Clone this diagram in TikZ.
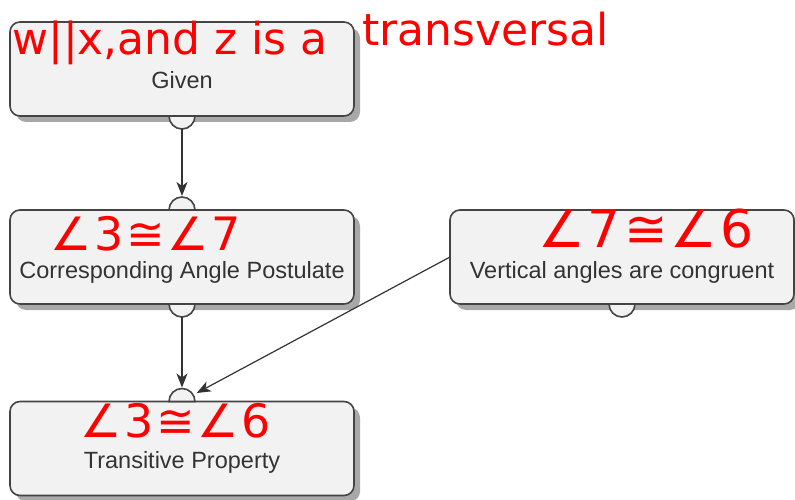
\documentclass[tikz,border=0pt]{standalone}
\usepackage{fontspec}
\setmainfont{Liberation Sans}
\newfontfamily\handfont{DejaVu Sans}
\newfontfamily\handwide[LetterSpace=6]{DejaVu Sans}
\usetikzlibrary{arrows.meta,shadows,calc}
\definecolor{boxfill}{HTML}{F2F2F2}
\definecolor{boxline}{HTML}{444444}
\definecolor{shadowgray}{HTML}{A8A8A8}
\definecolor{txtgray}{HTML}{333333}
\definecolor{ink}{HTML}{FF0000}
\begin{document}
\begin{tikzpicture}[x=1pt,y=-1pt,
 stepbox/.style={rectangle, rounded corners=10pt, minimum width=344pt, minimum height=94pt,
   draw=boxline, line width=1.6pt, fill=boxfill, outer sep=0pt,
   drop shadow={shadow xshift=6pt, shadow yshift=-6pt, fill=shadowgray, opacity=1}},
 boxtext/.style={font=\fontsize{23.5}{27}\selectfont, text=txtgray, inner sep=0pt, anchor=base},
 portcap/.style={draw=boxline, line width=1.6pt, fill=boxfill},
 arr/.style={draw=txtgray, line width=1.2pt, shorten >=1pt, -{Stealth[length=14pt,width=11pt,inset=4pt]}},
 hand/.style={text=ink, inner sep=0pt, font=\handfont\fontsize{#1}{#1}\selectfont},
 handsym/.style={text=ink, inner sep=0pt, font=\handwide\fontsize{#1}{#1}\selectfont},
]
\useasboundingbox (0,0) rectangle (795,500);
% boxes
\node[stepbox] (given) at (182,69) {};
\node[stepbox] (corr) at (182,257) {};
\node[stepbox] (vert) at (622,257) {};
\node[stepbox] (trans) at (182,448.5) {};
% semicircular ports
\path[portcap] ([xshift=-13pt]given.south) arc[start angle=180,end angle=360,radius=13pt] -- cycle;
\path[portcap] ([xshift=-13pt]corr.north) arc[start angle=180,end angle=0,radius=13pt] -- cycle;
\path[portcap] ([xshift=-13pt]corr.south) arc[start angle=180,end angle=360,radius=13pt] -- cycle;
\path[portcap] ([xshift=-13pt]vert.south) arc[start angle=180,end angle=360,radius=13pt] -- cycle;
\path[portcap] ([xshift=-13pt]trans.north) arc[start angle=180,end angle=0,radius=13pt] -- cycle;
\coordinate (givenout) at ([yshift=-13pt]given.south);
\coordinate (corrin) at ([yshift=13pt]corr.north);
\coordinate (corrout) at ([yshift=-13pt]corr.south);
\coordinate (transin) at ([yshift=13pt]trans.north);
\coordinate (transside) at ($(trans.north)+(30:16pt)$);
% labels
\node[boxtext] (givenlbl) at ($(given.center)+(0,20)$) {Given};
\node[boxtext] (corrlbl) at ($(corr.center)+(0,21)$) {Corresponding Angle Postulate};
\node[boxtext] (vertlbl) at ($(vert.center)+(0,21)$) {Vertical angles are congruent};
\node[boxtext] (translbl) at ($(trans.center)+(0,19.5)$) {Transitive Property};
% connectors
\draw[arr] (givenout) -- (corrin);
\draw[arr] (corrout) -- (transin);
\draw[arr] (vert.west) -- (transside);
% handwritten notes
\node[hand=44, anchor=base west] (note1) at (12,55) {w||x,and z is a};
\node[hand=44, anchor=base west] (note2) at (362,46) {transversal};
\node[handsym=46, anchor=base] (note3) at (146,250) {∠3≅∠7};
\node[handsym=52, anchor=base] (note4) at (646,247) {∠7≅∠6};
\node[handsym=46, anchor=base] (note5) at (176,437) {∠3≅∠6};
\end{tikzpicture}
\end{document}
